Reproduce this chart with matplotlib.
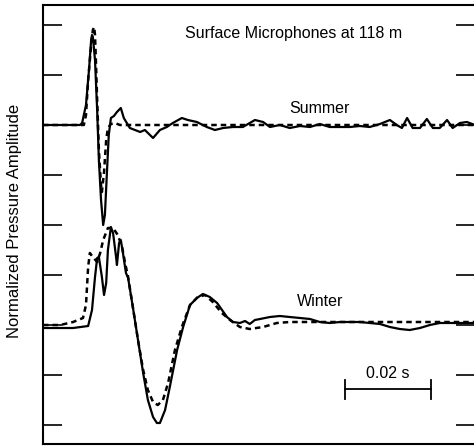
import numpy as np
import matplotlib
matplotlib.use('Agg')
import matplotlib.pyplot as plt

plt.rcParams['font.family'] = ['Liberation Sans', 'DejaVu Sans']

# time in ms, amplitude in tick units (baseline = 0)
summer_t = [0, 8.6, 9.1, 10.0, 10.7, 11.2, 11.4, 11.6, 12.1, 12.6, 13.0, 13.5, 14.0, 14.4,
            14.9, 15.3, 15.8, 16.5, 17.2, 18.1, 18.8, 20.2, 22.6, 23.7, 25.6, 27.2, 28.8,
            30.2, 32.3, 33.7, 35.8, 38.1, 40.0, 41.9, 44.2, 46.5, 49.3, 51.2, 52.8, 55.1,
            57.4, 59.8, 62.1, 64.4, 66.7, 69.1, 71.4, 73.7, 76.0, 78.4, 80.7, 82.3, 83.5,
            84.7, 86.0, 87.7, 89.3, 90.7, 92.3, 94.0, 95.3, 97.0, 98.6, 100.5]
summer_a = [0, 0, 0.04, 0.40, 1.10, 1.70, 1.80, 1.76, 1.30, 0.30, -0.70, -1.50, -2.00, -1.80,
            -0.90, -0.20, 0.14, 0.18, 0.26, 0.34, 0.14, -0.06, -0.14, -0.10, -0.26, -0.10, -0.04,
            0.04, 0.14, 0.10, 0.06, -0.04, -0.10, -0.06, -0.04, -0.04, 0.10, 0.06, -0.04, 0,
            -0.06, -0.02, -0.04, 0.02, -0.04, -0.04, -0.04, -0.02, -0.04, 0.02, 0.10, 0, -0.06,
            0.14, -0.06, -0.06, 0.12, -0.06, -0.06, 0.10, -0.06, 0.04, 0.06, 0]

summer_fit_t = [0, 9.5, 10.0, 10.5, 11.2, 11.6, 11.9, 12.1, 12.3, 12.6, 13.0, 13.5, 13.7,
                14.2, 14.7, 15.1, 15.8, 16.7, 17.9, 100.5]
summer_fit_a = [0, 0, 0.20, 0.90, 1.60, 1.90, 1.96, 1.80, 1.30, 0.50, -0.50, -1.20, -1.34,
                -0.94, -0.30, -0.06, 0.02, 0.04, 0, 0]

winter_t = [0, 7.0, 10.5, 11.4, 12.1, 12.6, 13.0, 13.7, 14.2, 14.7, 15.1, 15.8, 16.3, 17.0,
            17.2, 17.7, 18.1, 18.6, 19.3, 19.8, 20.9, 22.1, 23.3, 24.4, 25.6, 26.5, 27.2,
            28.4, 29.5, 31.2, 32.6, 34.2, 35.8, 37.2, 38.8, 40.5, 42.8, 44.2, 45.8, 47.0,
            48.1, 49.3, 50.5, 52.8, 55.1, 57.4, 59.8, 62.1, 64.4, 66.7, 69.1, 71.4, 73.7,
            76.0, 78.4, 80.7, 83.0, 85.3, 87.7, 90.0, 92.3, 100.5]
winter_a = [-0.06, -0.06, -0.02, 0.30, 0.96, 1.34, 1.36, 0.96, 0.60, 0.84, 1.50, 1.96, 1.84,
            1.36, 1.20, 1.64, 1.70, 1.44, 1.04, 0.94, 0.36, -0.30, -0.96, -1.50, -1.84, -1.96,
            -1.96, -1.70, -1.24, -0.50, -0.04, 0.40, 0.54, 0.62, 0.56, 0.44, 0.16, 0.06, 0.04,
            0.08, 0.02, 0.10, 0.12, 0.16, 0.18, 0.16, 0.14, 0.12, 0.06, 0.04, 0.06, 0.06, 0.06,
            0.04, 0.02, -0.04, -0.08, -0.10, -0.06, 0, 0.04, 0.04]

winter_fit_t = [0, 4.0, 7.0, 9.3, 10.0, 10.5, 10.9, 11.6, 12.6, 13.3, 14.0, 15.1, 16.3, 17.4,
                18.4, 19.1, 19.8, 20.9, 22.1, 23.3, 24.4, 25.6, 26.7, 27.9, 29.1, 30.7, 32.3,
                34.2, 36.0, 37.7, 39.5, 41.6, 43.5, 45.8, 48.1, 51.2, 54.4, 57.4, 100.5]
winter_fit_a = [0, 0, 0.06, 0.14, 0.40, 1.16, 1.44, 1.36, 1.26, 1.44, 1.70, 1.94, 1.94, 1.80,
                1.56, 1.24, 0.96, 0.36, -0.30, -0.90, -1.30, -1.54, -1.60, -1.50, -1.16, -0.50,
                -0.04, 0.40, 0.56, 0.60, 0.46, 0.24, 0.10, -0.04, -0.08, -0.04, 0.04, 0.06, 0.06]

summer_offset = 6
winter_offset = 2
yticks = [0, 1, 2, 3, 4, 5, 6, 7, 8]
scale_start, scale_len = 70.2, 20.0   # ms, 0.02 s

fig = plt.figure(figsize=(4.74, 4.47), dpi=100)
ax = fig.add_axes([43 / 474, 3 / 447, 432 / 474, 439 / 447])

dash = (0, (2.2, 1.6))
ax.plot(summer_t, np.array(summer_a) + summer_offset, color='black', lw=1.6)
ax.plot(summer_fit_t, np.array(summer_fit_a) + summer_offset, color='black', lw=1.8, ls=dash)
ax.plot(winter_t, np.array(winter_a) + winter_offset, color='black', lw=1.6)
ax.plot(winter_fit_t, np.array(winter_fit_a) + winter_offset, color='black', lw=1.8, ls=dash)

ax.set_xlim(0, 100.5)
ax.set_ylim(-0.38, 8.4)
ax.set_xticks([])
ax.set_yticks(yticks)
ax.set_yticklabels([])
ax.tick_params(axis='y', direction='in', length=13.5, width=1.2, left=True, right=True)
for s in ['left', 'top', 'bottom']:
    ax.spines[s].set_linewidth(1.5)
ax.spines['right'].set_visible(False)

# scale bar
ax.plot([scale_start, scale_start + scale_len], [0.72, 0.72], color='black', lw=1.3)
ax.plot([scale_start, scale_start], [0.53, 0.91], color='black', lw=1.3)
ax.plot([scale_start + scale_len] * 2, [0.53, 0.91], color='black', lw=1.3)
ax.text(scale_start + scale_len / 2, 1.02, '0.02 s', ha='center', va='center', fontsize=11.5)

ax.text(58.4, 7.84, 'Surface Microphones at 118 m', ha='center', va='center', fontsize=11.5)
ax.text(64.4, 6.34, 'Summer', ha='center', va='center', fontsize=11.5)
ax.text(64.4, 2.48, 'Winter', ha='center', va='center', fontsize=11.5)

fig.text(15 / 474, 1 - 221 / 447, 'Normalized Pressure Amplitude', rotation=90,
         ha='center', va='center', fontsize=12)

fig.savefig('out.png', dpi=100)
